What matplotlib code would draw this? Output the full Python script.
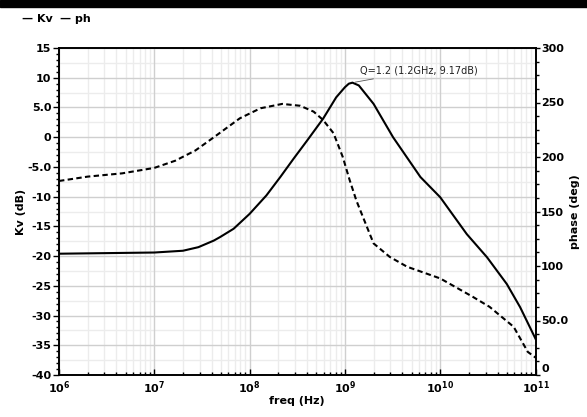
import matplotlib.pyplot as plt
import matplotlib.ticker as mticker
import matplotlib.transforms as mtransforms
from matplotlib.patches import Rectangle

# Kv magnitude (dB)
kv_freq = [1e6, 1e7, 2e7, 2.9e7, 4.2e7, 4.9e7, 6.8e7, 1e8, 1.5e8, 2.1e8,
           2.9e8, 4e8, 5.9e8, 8.1e8, 1e9, 1.1e9, 1.2e9, 1.4e9, 2e9, 3.2e9,
           6.2e9, 1e10, 1.9e10, 3.1e10, 5e10, 6.9e10, 1e11]
kv_db = [-19.6, -19.4, -19.1, -18.5, -17.4, -16.8, -15.4, -12.9, -9.8, -6.7,
         -3.6, -0.6, 3.1, 6.7, 8.4, 9.0, 9.17, 8.7, 5.6, 0.0,
         -6.7, -10.1, -16.3, -20.2, -24.7, -28.6, -33.9]

# phase (deg)
ph_freq = [1e6, 2e6, 4.6e6, 1e7, 1.66e7, 2.7e7, 4.2e7, 7.9e7, 1.3e8, 2.2e8,
           3.4e8, 4.7e8, 5.9e8, 7.6e8, 9.5e8, 1.12e9, 1.32e9, 1.7e9, 2e9,
           2.95e9, 4.5e9, 1e10, 2.2e10, 3.3e10, 5.9e10, 8.3e10, 1e11]
ph_deg = [178, 182, 185, 190, 196.6, 206, 218, 235.5, 244.7, 248.7,
          247, 241.6, 234, 221.8, 200, 179, 160, 136, 120.7,
          108.4, 99.3, 88.6, 71.7, 62.5, 44.2, 21.2, 16]

kv_ticks = [15, 10, 5, 0, -5, -10, -15, -20, -25, -30, -35, -40]
kv_labels = ['15', '10', '5.0', '0', '-5.0', '-10', '-15', '-20', '-25', '-30', '-35', '-40']
ph_ticks = [300, 250, 200, 150, 100, 50, 0]
ph_labels = ['300', '250', '200', '150', '100', '50.0', '0']

peak_f, peak_db = 1.2e9, 9.17

fig = plt.figure(figsize=(5.87, 4.17), dpi=100)
fig.patches.append(Rectangle((0, 1 - 7 / 417), 1, 7 / 417, transform=fig.transFigure,
                             color='black', zorder=10))

ax = fig.add_axes([59 / 587, 1 - 375 / 417, (535.5 - 59) / 587, (375 - 48) / 417])
ax2 = ax.twinx()

ax.set_xscale('log')
ax.set_xlim(1e6, 1e11)
ax.set_ylim(-40, 15)
ax2.set_ylim(0, 300)

ax.plot(kv_freq, kv_db, color='black', lw=1.5, zorder=3)
ax2.plot(ph_freq, ph_deg, color='black', lw=1.5, dashes=(2.6, 1.6), zorder=3)

# grid
ax.set_yticks(kv_ticks)
ax.set_yticklabels(kv_labels)
ax.yaxis.set_minor_locator(mticker.MultipleLocator(1))
ax.xaxis.set_minor_locator(mticker.LogLocator(base=10, subs=range(2, 10), numticks=20))
ax.xaxis.set_minor_formatter(mticker.NullFormatter())
ax.grid(True, which='major', color='#cfcfcf', lw=1.0, zorder=0)
ax.grid(True, which='minor', axis='x', color='#ececec', lw=1.0, zorder=0)
ax.set_axisbelow(True)
for v in [12.5, 7.5, 2.5, -2.5, -7.5, -12.5, -17.5, -22.5, -27.5, -32.5, -37.5]:
    ax.axhline(v, color='#ececec', lw=1.0, zorder=0)

ax2.set_yticks(ph_ticks)
ax2.set_yticklabels(ph_labels)
ax2.yaxis.set_minor_locator(mticker.MultipleLocator(12.5))

ax.tick_params(axis='both', which='major', length=4, width=1, labelsize=8, pad=1.5)
ax.tick_params(axis='both', which='minor', length=2.5, width=1)
ax.tick_params(axis='x', which='both', direction='in', pad=3)
ax2.tick_params(axis='y', which='major', length=3, width=1, labelsize=8, pad=1)
ax2.tick_params(axis='y', which='minor', length=2, width=1)
for lab in ax.get_yticklabels() + ax.get_xticklabels() + ax2.get_yticklabels():
    lab.set_fontweight('bold')

# lift the bottom "0" on the right so it clears the 10^11 label
zero_lab = ax2.get_yticklabels()[-1]
zero_lab.set_transform(zero_lab.get_transform() +
                       mtransforms.ScaledTranslation(0, 5 / 72, fig.dpi_scale_trans))

for a in (ax, ax2):
    for s in a.spines.values():
        s.set_linewidth(1.2)

ax.set_xlabel('freq (Hz)', fontsize=8, fontweight='bold', labelpad=0)
ax.set_ylabel('Kv (dB)', fontsize=8, fontweight='bold', labelpad=1)
ax2.set_ylabel('phase (deg)', fontsize=8, fontweight='bold', labelpad=1)

# marker label at the peak
ax.annotate('Q=1.2 (1.2GHz, 9.17dB)', xy=(peak_f, peak_db), xytext=(1.45e9, 11.2),
            fontsize=7, color='#222222', va='center',
            arrowprops=dict(arrowstyle='-', color='#555555', lw=0.6))

# legend strip
fig.text(22 / 587, 1 - 19 / 417, '\u2014 Kv', fontsize=8, fontweight='bold', va='center')
fig.text(60 / 587, 1 - 19 / 417, '\u2014 ph', fontsize=8, fontweight='bold', va='center')

fig.savefig('out.png', dpi=100)
